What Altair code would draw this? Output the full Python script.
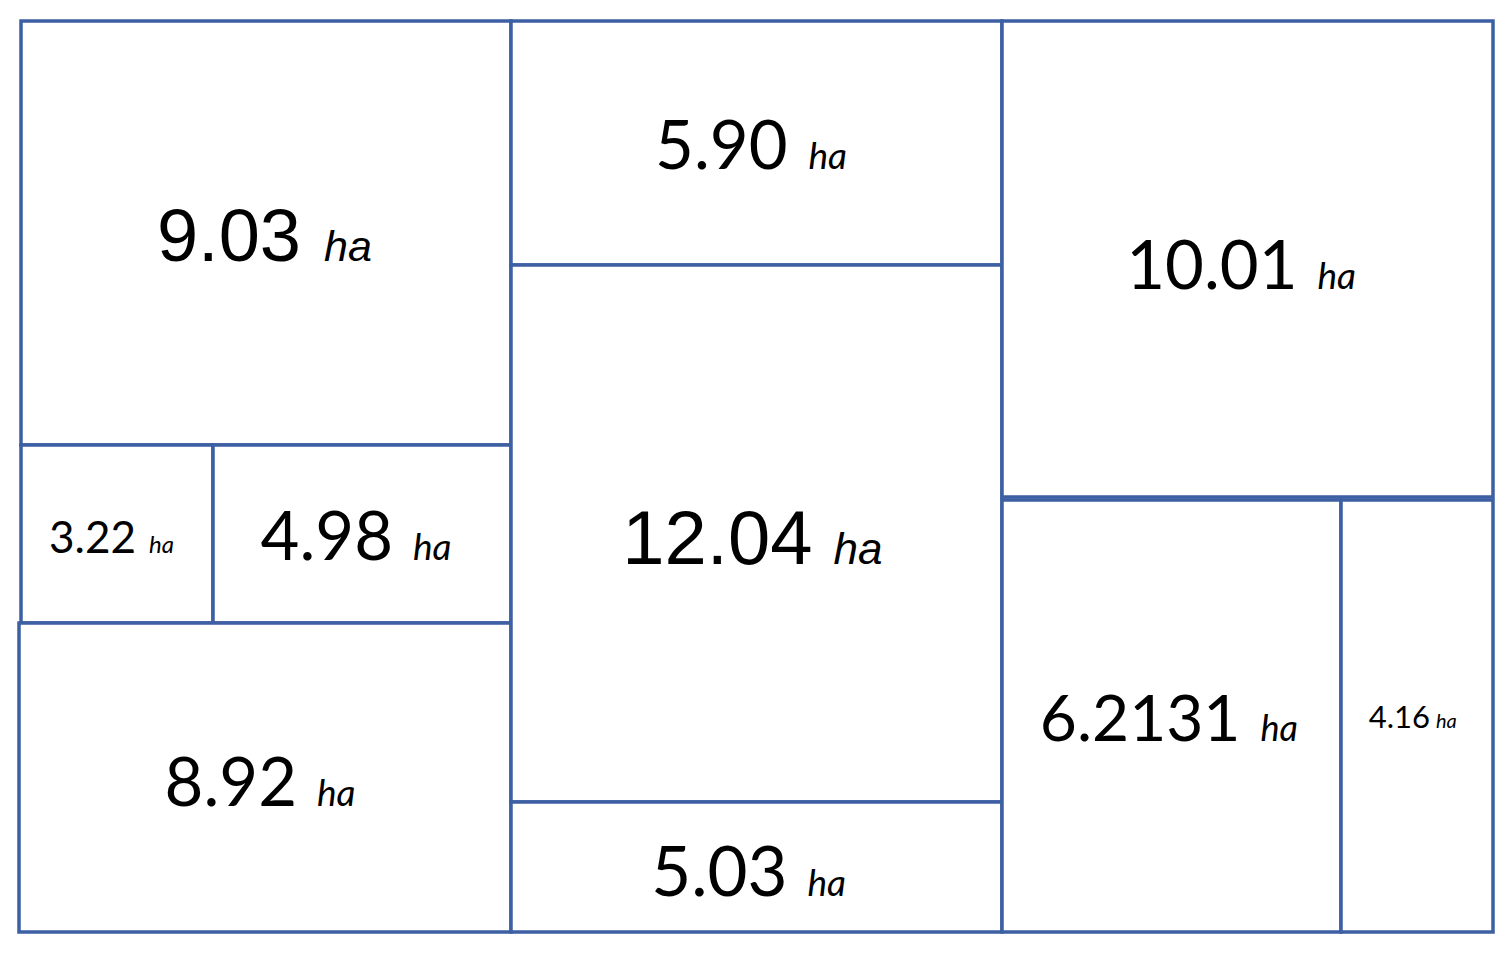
import altair as alt
import pandas as pd

# Plot areas (hectares) and the layout of each plot on the sheet
labels = ["9.03", "3.22", "4.98", "8.92", "5.90", "12.04", "5.03", "10.01", "6.2131", "4.16"]
x_left = [21, 21, 213, 19, 511, 511, 511, 1002, 1002, 1341]
x_right = [511, 213, 511, 511, 1002, 1002, 1002, 1493, 1341, 1493]
y_top = [21, 445, 445, 623, 21, 265, 802, 21, 500, 500]
y_bottom = [445, 623, 623, 932, 265, 802, 932, 497, 932, 932]

# text styling per label
num_font = ["Liberation Sans", "Lato", "Lato", "Lato", "Lato", "Liberation Sans", "Lato", "Lato", "Lato", "Lato"]
num_size = [74, 44, 67, 67, 67, 76, 69, 67, 64, 31]
unit_size = [43, 24, 37, 37, 37, 44, 37, 37, 36, 20]
end_dx = [35, 19, 31, 32, 31, 56, 31, 50, 69, 13]
gap = [23, 13, 20, 20, 21, 21, 20, 20, 20, 6]
base_dy = [28, 19, 26, 28, 26, 30, 29, 30, 25, 12]

boxes = pd.DataFrame({"label": labels, "x0": x_left, "x1": x_right, "y0": y_top, "y1": y_bottom})
cx = [(a + b) / 2 for a, b in zip(x_left, x_right)]
cy = [(a + b) / 2 for a, b in zip(y_top, y_bottom)]
texts = pd.DataFrame({
    "label": labels,
    "font": num_font,
    "fs": num_size,
    "us": unit_size,
    "nx": [c + d for c, d in zip(cx, end_dx)],
    "ux": [c + d + g for c, d, g in zip(cx, end_dx, gap)],
    "by": [c + d for c, d in zip(cy, base_dy)],
    "unit": ["ha"] * len(labels),
})

xs = alt.Scale(domain=[8, 1503], nice=False, zero=False)
ys = alt.Scale(domain=[8, 947], nice=False, zero=False, reverse=True)
BLUE = "#3d5fa3"

rects = alt.Chart(boxes).mark_rect(fill="white", stroke=BLUE, strokeWidth=3.5).encode(
    x=alt.X("x0:Q", scale=xs, axis=None),
    x2="x1:Q",
    y=alt.Y("y0:Q", scale=ys, axis=None),
    y2="y1:Q",
)

layers = [rects]
for fam in ["Liberation Sans", "Lato"]:
    sub = alt.Chart(texts).transform_filter(alt.datum.font == fam)
    layers.append(
        sub.mark_text(font=fam, align="right", baseline="alphabetic", color="black").encode(
            x=alt.X("nx:Q", scale=xs, axis=None),
            y=alt.Y("by:Q", scale=ys, axis=None),
            text="label:N",
            size=alt.Size("fs:Q", scale=None, legend=None),
        )
    )
    layers.append(
        sub.mark_text(font=fam, fontStyle="italic", align="left", baseline="alphabetic", color="black").encode(
            x=alt.X("ux:Q", scale=xs, axis=None),
            y=alt.Y("by:Q", scale=ys, axis=None),
            text="unit:N",
            size=alt.Size("us:Q", scale=None, legend=None),
        )
    )

chart = alt.layer(*layers).properties(
    width=1495, height=939, autosize=alt.AutoSizeParams(type="none"), padding=0
).configure(background="white").configure_view(strokeWidth=0, stroke=None)

chart.save("out.html", embed_options={"renderer": "svg", "actions": False})
